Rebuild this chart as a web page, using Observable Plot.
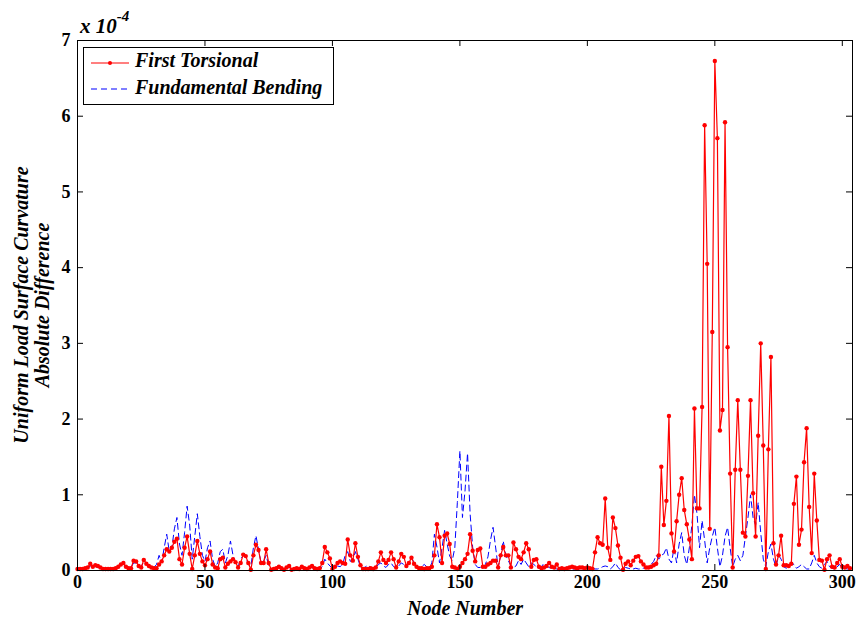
<!DOCTYPE html>
<html>
<head>
<meta charset="utf-8">
<script src="https://cdn.jsdelivr.net/npm/d3@7"></script>
<script src="https://cdn.jsdelivr.net/npm/@observablehq/plot@0.6"></script>
<style>
  body { margin: 0; background: #fff; }
  #wrap { position: relative; width: 862px; height: 618px; font-family: "Liberation Serif", "DejaVu Serif", serif; }
  #wrap svg { position: absolute; left: 0; top: 0; }
  .ov { position: absolute; font-weight: bold; font-style: italic; color: #000; white-space: nowrap; }
  svg [aria-label="x-axis label"] text { font-style: italic; font-size: 20px; }
</style>
</head>
<body>
<div id="wrap"></div>
<script>
// Values in units of 1e-4, node numbers 0..303
const torsional = [
0.02,0.02,0.02,0.03,0.04,0.09,0.05,0.07,0.06,0.04,
0.02,0.02,0.02,0.02,0.02,0.03,0.05,0.08,0.10,0.05,
0.03,0.03,0.13,0.12,0.06,0.04,0.14,0.09,0.06,0.04,
0.03,0.03,0.08,0.12,0.20,0.28,0.25,0.30,0.38,0.42,
0.15,0.08,0.30,0.45,0.22,0.02,0.20,0.39,0.22,0.12,
0.07,0.15,0.25,0.08,0.04,0.03,0.15,0.17,0.04,0.09,
0.12,0.15,0.11,0.04,0.10,0.21,0.19,0.10,0.01,0.20,
0.34,0.27,0.10,0.10,0.28,0.10,0.01,0.02,0.03,0.05,
0.03,0.01,0.04,0.06,0.01,0.02,0.03,0.02,0.05,0.03,
0.02,0.04,0.06,0.03,0.02,0.03,0.10,0.31,0.24,0.16,
0.02,0.05,0.10,0.12,0.10,0.09,0.41,0.20,0.13,0.36,
0.18,0.07,0.02,0.02,0.02,0.03,0.02,0.04,0.12,0.24,
0.14,0.10,0.14,0.24,0.15,0.04,0.12,0.22,0.18,0.06,
0.10,0.17,0.09,0.05,0.03,0.03,0.02,0.03,0.03,0.05,
0.20,0.61,0.44,0.10,0.46,0.49,0.35,0.05,0.04,0.02,
0.05,0.10,0.15,0.22,0.48,0.26,0.12,0.27,0.29,0.05,
0.05,0.08,0.10,0.13,0.13,0.04,0.20,0.31,0.20,0.20,
0.04,0.37,0.28,0.18,0.15,0.24,0.36,0.28,0.05,0.14,
0.15,0.05,0.03,0.04,0.06,0.10,0.05,0.04,0.08,0.02,
0.03,0.02,0.03,0.04,0.05,0.04,0.03,0.04,0.04,0.03,
0.04,0.03,0.02,0.24,0.44,0.36,0.34,0.95,0.30,0.14,
0.70,0.56,0.33,0.17,0.01,0.09,0.12,0.07,0.13,0.18,
0.19,0.12,0.08,0.04,0.04,0.05,0.07,0.09,0.20,1.37,
0.60,0.92,2.04,0.49,0.25,0.65,1.00,1.22,0.80,0.61,
0.41,0.15,2.14,0.82,0.82,2.16,5.88,4.05,0.55,3.15,
6.73,5.71,1.85,2.12,5.92,2.95,1.28,0.04,1.33,2.25,
1.33,0.50,0.45,1.25,2.25,1.02,0.45,1.78,3.00,1.65,
0.02,1.60,2.82,0.36,0.08,0.20,0.46,0.07,0.07,0.06,
0.09,0.88,1.24,0.34,0.54,1.43,1.88,0.84,0.23,1.28,
0.66,0.14,0.13,0.01,0.15,0.20,0.05,0.04,0.10,0.15,
0.05,0.04,0.06,0.03
];
const bending = [
0.01,0.02,0.02,0.02,0.03,0.06,0.05,0.05,0.04,0.03,
0.02,0.01,0.02,0.01,0.02,0.03,0.04,0.07,0.08,0.05,
0.03,0.04,0.10,0.10,0.06,0.05,0.12,0.10,0.06,0.05,
0.04,0.08,0.20,0.10,0.30,0.48,0.25,0.30,0.55,0.70,
0.35,0.20,0.50,0.85,0.60,0.15,0.45,0.75,0.45,0.20,
0.12,0.30,0.39,0.15,0.05,0.10,0.25,0.28,0.10,0.20,
0.39,0.20,0.08,0.05,0.15,0.20,0.18,0.08,0.05,0.30,
0.46,0.28,0.10,0.12,0.20,0.06,0.02,0.02,0.03,0.04,
0.02,0.01,0.03,0.04,0.02,0.02,0.03,0.02,0.04,0.02,
0.02,0.03,0.04,0.02,0.02,0.02,0.05,0.15,0.10,0.06,
0.03,0.04,0.06,0.05,0.08,0.20,0.25,0.12,0.15,0.25,
0.15,0.05,0.03,0.05,0.07,0.04,0.02,0.03,0.08,0.10,
0.06,0.04,0.08,0.10,0.05,0.03,0.06,0.10,0.08,0.05,
0.12,0.18,0.10,0.04,0.03,0.05,0.08,0.05,0.03,0.10,
0.48,0.31,0.10,0.30,0.53,0.35,0.19,0.13,0.30,0.90,
1.58,0.70,1.05,1.55,0.75,0.31,0.08,0.04,0.04,0.03,
0.08,0.18,0.40,0.57,0.31,0.04,0.20,0.39,0.20,0.13,
0.06,0.04,0.06,0.13,0.08,0.15,0.10,0.05,0.10,0.08,
0.05,0.03,0.05,0.10,0.06,0.04,0.02,0.03,0.02,0.01,
0.02,0.01,0.02,0.03,0.02,0.02,0.01,0.02,0.02,0.02,
0.03,0.04,0.03,0.02,0.02,0.03,0.05,0.06,0.05,0.02,
0.05,0.10,0.04,0.01,0.02,0.04,0.03,0.02,0.02,0.03,
0.02,0.02,0.03,0.04,0.05,0.08,0.12,0.20,0.15,0.20,
0.22,0.30,0.15,0.10,0.30,0.10,0.35,0.50,0.20,0.08,
0.30,0.60,1.00,0.75,0.30,0.66,0.40,0.10,0.30,0.45,
0.57,0.30,0.05,0.20,0.45,0.57,0.30,0.05,0.15,0.20,
0.13,0.20,0.45,0.70,1.00,0.70,0.60,0.90,0.50,0.15,
0.05,0.25,0.35,0.15,0.05,0.20,0.15,0.05,0.03,0.05,
0.10,0.08,0.03,0.05,0.08,0.05,0.02,0.02,0.10,0.20,
0.10,0.05,0.03,0.08,0.12,0.05,0.03,0.02,0.05,0.08,
0.04,0.03,0.02,0.02
];
const xTicks = [0, 50, 100, 150, 200, 250, 300];
const yTicks = [0, 1, 2, 3, 4, 5, 6, 7];
const seriesNames = ["First Torsional", "Fundamental Bending"];

const tors = torsional.map((v, i) => ({node: i, value: v}));
const bend = bending.map((v, i) => ({node: i, value: v}));

const xMax = 304, yMax = 7;
const tickLenX = xMax * 6 / 775;   // ~6px inward ticks
const tickLenY = yMax * 6 / 530;

const plot = Plot.plot({
  width: 862,
  height: 618,
  marginLeft: 77,
  marginRight: 10,
  marginTop: 40,
  marginBottom: 48,
  style: {fontFamily: "Liberation Serif, serif", fontWeight: "bold", fontSize: "18px", color: "black", background: "white", overflow: "visible"},
  x: {domain: [0, xMax]},
  y: {domain: [0, yMax]},
  marks: [
    Plot.line(bend, {x: "node", y: "value", stroke: "blue", strokeWidth: 1, strokeDasharray: "6,4"}),
    Plot.line(tors, {x: "node", y: "value", stroke: "red", strokeWidth: 1.2}),
    Plot.dot(tors, {x: "node", y: "value", fill: "red", r: 2.2, stroke: "none"}),
    Plot.ruleX(xTicks, {y1: 0, y2: tickLenY, stroke: "black"}),
    Plot.ruleX(xTicks, {y1: yMax, y2: yMax - tickLenY, stroke: "black"}),
    Plot.ruleY(yTicks, {x1: 0, x2: tickLenX, stroke: "black"}),
    Plot.ruleY(yTicks, {x1: xMax, x2: xMax - tickLenX, stroke: "black"}),
    Plot.frame({stroke: "black", strokeWidth: 1}),
    Plot.axisX(xTicks, {tickSize: 0, tickPadding: 5, tickFormat: "d", label: "Node Number", labelAnchor: "center", labelArrow: "none", labelOffset: 44}),
    Plot.axisY(yTicks, {tickSize: 0, tickPadding: 7, tickFormat: "d", label: null})
  ]
});

const wrap = document.getElementById("wrap");
wrap.appendChild(plot);

// exponent label
const ex = document.createElement("div");
ex.className = "ov";
ex.style.left = "80px"; ex.style.top = "12px"; ex.style.fontSize = "21px";
ex.innerHTML = "x 10<sup style='font-size:15px;position:relative;top:-4px'>-4</sup>";
wrap.appendChild(ex);

// y-axis label (two lines, rotated)
const yl = document.createElement("div");
yl.className = "ov";
yl.style.fontSize = "20px";
yl.style.lineHeight = "21px";
yl.style.textAlign = "center";
yl.style.width = "400px";
yl.style.left = (32 - 200) + "px";
yl.style.top = (305 - 21) + "px";
yl.style.transform = "rotate(-90deg)";
yl.style.transformOrigin = "200px 21px";
yl.innerHTML = "Uniform Load Surface Curvature<br>Absolute Difference";
wrap.appendChild(yl);

// legend
const lg = document.createElement("div");
lg.style.cssText = "position:absolute;left:83px;top:47px;width:249px;height:56px;border:1px solid #000;background:#fff;";
const sw = (dashed, color, top, dot) => {
  const s = `<svg style="position:absolute;left:6px;top:${top}px" width="40" height="8">
    <line x1="1" y1="4" x2="39" y2="4" stroke="${color}" stroke-width="1.1" ${dashed ? 'stroke-dasharray="6,4"' : ''}/>
    ${dot ? `<circle cx="20" cy="4" r="2" fill="${color}"/>` : ''}</svg>`;
  return s;
};
lg.innerHTML =
  sw(false, "red", 11, true) +
  `<div class="ov" style="left:51px;top:1px;font-size:20px;">${seriesNames[0]}</div>` +
  sw(true, "blue", 37, false) +
  `<div class="ov" style="left:51px;top:28px;font-size:20px;">${seriesNames[1]}</div>`;
wrap.appendChild(lg);
</script>
</body>
</html>
